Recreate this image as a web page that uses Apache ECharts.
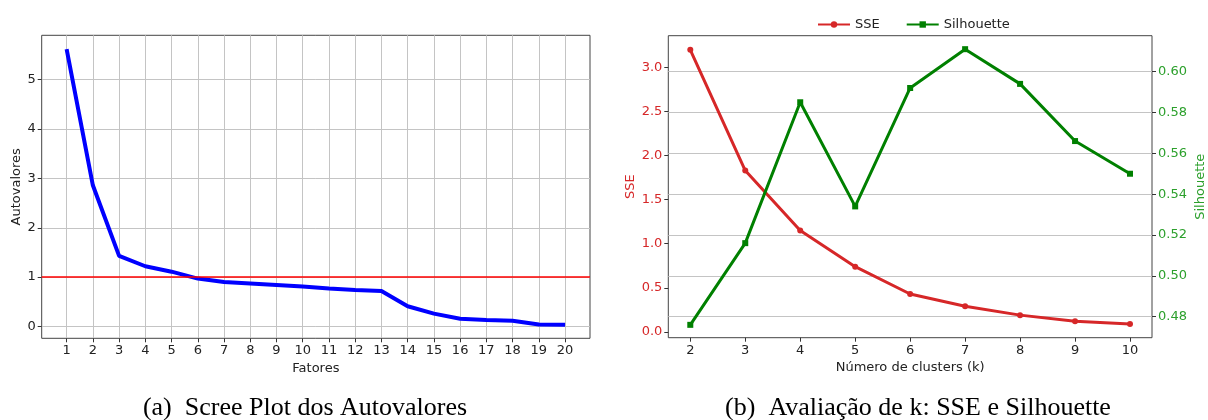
<!DOCTYPE html>
<html lang="pt">
<head>
    <meta charset="UTF-8">
    <title>Scree Plot e Avaliação de k</title>
    <style>
        html, body { margin: 0; padding: 0; background: #fff; }
        #chart { width: 1208px; height: 420px; }
    </style>
</head>
<body>
<div id="chart"></div>
<script src="https://cdn.jsdelivr.net/npm/echarts@6/dist/echarts.min.js"></script>
<script>
    'use strict';
    // (a) autovalores por fator
    const fatores = [1, 2, 3, 4, 5, 6, 7, 8, 9, 10, 11, 12, 13, 14, 15, 16, 17, 18, 19, 20];
    const autovalores = [5.62, 2.86, 1.43, 1.22, 1.11, 0.97, 0.90, 0.87, 0.84, 0.81,
        0.77, 0.74, 0.72, 0.41, 0.26, 0.155, 0.13, 0.115, 0.04, 0.035];
    const limiteKaiser = 1;
    const ticksAutovalores = [0, 1, 2, 3, 4, 5];

    // (b) SSE e Silhouette por numero de clusters
    const clusters = [2, 3, 4, 5, 6, 7, 8, 9, 10];
    const sse = [3.20, 1.83, 1.15, 0.74, 0.43, 0.29, 0.19, 0.12, 0.09];
    const silhouette = [0.476, 0.516, 0.585, 0.534, 0.592, 0.611, 0.594, 0.566, 0.550];
    const ticksSSE = [0, 0.5, 1.0, 1.5, 2.0, 2.5, 3.0];
    const ticksSil = [0.48, 0.50, 0.52, 0.54, 0.56, 0.58, 0.60];

    const legendas = ['(a)  Scree Plot dos Autovalores', '(b)  Avaliação de k: SSE e Silhouette'];

    const FONT = 'DejaVu Sans';
    const RED = '#d62728';
    const GREEN = '#008000';
    const GREEN_TXT = '#2ca02c';
    const GRID = '#c4c4c4';

    function pares(xs, ys) {
        return xs.map(function (x, i) { return [x, ys[i]]; });
    }

    function eixo(extra) {
        let base = {
            type: 'value',
            axisLine: { show: false, onZero: false },
            axisTick: { show: true, inside: false, length: 4, lineStyle: { color: '#333' } },
            axisLabel: { fontFamily: FONT, fontSize: 13, color: '#222', margin: 6 },
            splitLine: { show: false },
            nameTextStyle: { fontFamily: FONT, fontSize: 13, color: '#222' },
            nameLocation: 'middle'
        };
        return Object.assign(base, extra);
    }

    let chart = echarts.init(document.getElementById('chart'), null, { renderer: 'canvas' });

    let option = {
        animation: false,
        backgroundColor: '#fff',
        title: [
            {
                text: legendas[0], left: 300, top: 390, textAlign: 'center',
                textStyle: { fontFamily: 'Liberation Serif', fontSize: 26, fontWeight: 'normal', color: '#000' }
            },
            {
                text: legendas[1], left: 913, top: 390, textAlign: 'center',
                textStyle: { fontFamily: 'Liberation Serif', fontSize: 26, fontWeight: 'normal', color: '#000' }
            }
        ],
        legend: {
            top: 13, left: 812,
            itemWidth: 32, itemHeight: 8, itemGap: 26,
            textStyle: { fontFamily: FONT, fontSize: 13, color: '#222' },
            data: ['SSE', 'Silhouette']
        },
        grid: [
            { left: 41.7, top: 35.3, width: 548.3, height: 303, show: true, borderColor: '#444', borderWidth: 1, backgroundColor: 'transparent' },
            { left: 668.3, top: 35.7, width: 483.7, height: 302, show: true, borderColor: '#444', borderWidth: 1, backgroundColor: 'transparent' }
        ],
        xAxis: [
            eixo({
                gridIndex: 0, min: 0.05, max: 20.95,
                name: 'Fatores', nameGap: 20,
                axisTick: { show: true, length: 4, customValues: fatores, lineStyle: { color: '#333' } },
                axisLabel: { fontFamily: FONT, fontSize: 13, color: '#222', margin: 6, customValues: fatores },
                splitLine: { show: true, lineStyle: { color: GRID, width: 1 } }
            }),
            eixo({
                gridIndex: 1, min: 1.6, max: 10.4,
                name: 'Número de clusters (k)', nameGap: 20,
                axisTick: { show: true, length: 4, customValues: clusters, lineStyle: { color: '#333' } },
                axisLabel: { fontFamily: FONT, fontSize: 13, color: '#222', margin: 6, customValues: clusters }
            })
        ],
        yAxis: [
            eixo({
                gridIndex: 0, min: -0.24, max: 5.9,
                name: 'Autovalores', nameGap: 19,
                axisTick: { show: true, length: 4, customValues: ticksAutovalores, lineStyle: { color: '#333' } },
                axisLabel: { fontFamily: FONT, fontSize: 13, color: '#222', margin: 6, customValues: ticksAutovalores },
                splitLine: { show: true, lineStyle: { color: GRID, width: 1 } }
            }),
            eixo({
                gridIndex: 1, min: -0.066, max: 3.36, position: 'left',
                name: 'SSE', nameGap: 31,
                nameTextStyle: { fontFamily: FONT, fontSize: 13, color: RED },
                axisTick: { show: true, length: 4, customValues: ticksSSE, lineStyle: { color: '#333' } },
                axisLabel: {
                    fontFamily: FONT, fontSize: 13, color: RED, margin: 6, customValues: ticksSSE,
                    formatter: function (v) { return v.toFixed(1); }
                }
            }),
            eixo({
                gridIndex: 1, min: 0.4697, max: 0.6176, position: 'right',
                name: 'Silhouette', nameGap: 42, nameRotate: 90,
                nameTextStyle: { fontFamily: FONT, fontSize: 13, color: GREEN_TXT },
                axisTick: { show: true, length: 4, customValues: ticksSil, lineStyle: { color: '#333' } },
                axisLabel: {
                    fontFamily: FONT, fontSize: 13, color: GREEN_TXT, margin: 6, customValues: ticksSil,
                    formatter: function (v) { return v.toFixed(2); }
                },
                splitLine: { show: true, lineStyle: { color: GRID, width: 1 } }
            })
        ],
        series: [
            {
                name: 'Autovalores', type: 'line',
                xAxisIndex: 0, yAxisIndex: 0,
                data: pares(fatores, autovalores),
                showSymbol: false, symbol: 'none',
                lineStyle: { color: '#0000ff', width: 4 },
                itemStyle: { color: '#0000ff' },
                markLine: {
                    silent: true, symbol: 'none', label: { show: false },
                    lineStyle: { color: '#ff0000', width: 1.5, type: 'solid' },
                    data: [{ yAxis: limiteKaiser }]
                },
                z: 3
            },
            {
                name: 'SSE', type: 'line',
                xAxisIndex: 1, yAxisIndex: 1,
                data: pares(clusters, sse),
                symbol: 'circle', symbolSize: 6,
                lineStyle: { color: RED, width: 3 },
                itemStyle: { color: RED },
                z: 3
            },
            {
                name: 'Silhouette', type: 'line',
                xAxisIndex: 1, yAxisIndex: 2,
                data: pares(clusters, silhouette),
                symbol: 'rect', symbolSize: 6,
                lineStyle: { color: GREEN, width: 3 },
                itemStyle: { color: GREEN },
                z: 4
            }
        ]
    };

    chart.setOption(option);
</script>
</body>
</html>
